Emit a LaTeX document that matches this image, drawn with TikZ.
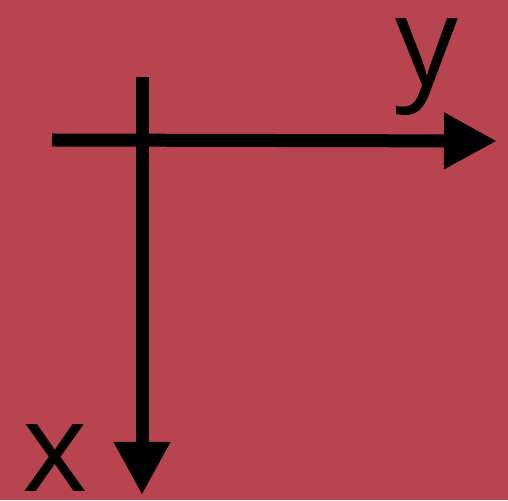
\documentclass[tikz,border=0pt]{standalone}
\usepackage{fontspec}
\setmainfont{Open Sans}
\usetikzlibrary{arrows.meta}
\definecolor{bgred}{RGB}{184,68,80}
\tikzset{
  axis/.style={line width=13pt, -{Triangle[length=53pt,width=53pt]}, black},
  lbl/.style={inner sep=0pt, anchor=base west, font=\fontsize{125}{125}\selectfont}
}
\begin{document}
\begin{tikzpicture}[x=1pt,y=1pt]
\fill[bgred] (0,0) rectangle (508,500);
\useasboundingbox (0,0) rectangle (508,500);
\coordinate (hs) at (52,360);
\coordinate (he) at (497,359);
\coordinate (vs) at (142,423);
\coordinate (ve) at (142,5);
\draw[axis] (hs) -- (he);
\draw[axis] (vs) -- (ve);
\node[lbl] (ylab) at (395,414) {y};
\node[lbl] (xlab) at (22,9) {x};
\end{tikzpicture}
\end{document}
